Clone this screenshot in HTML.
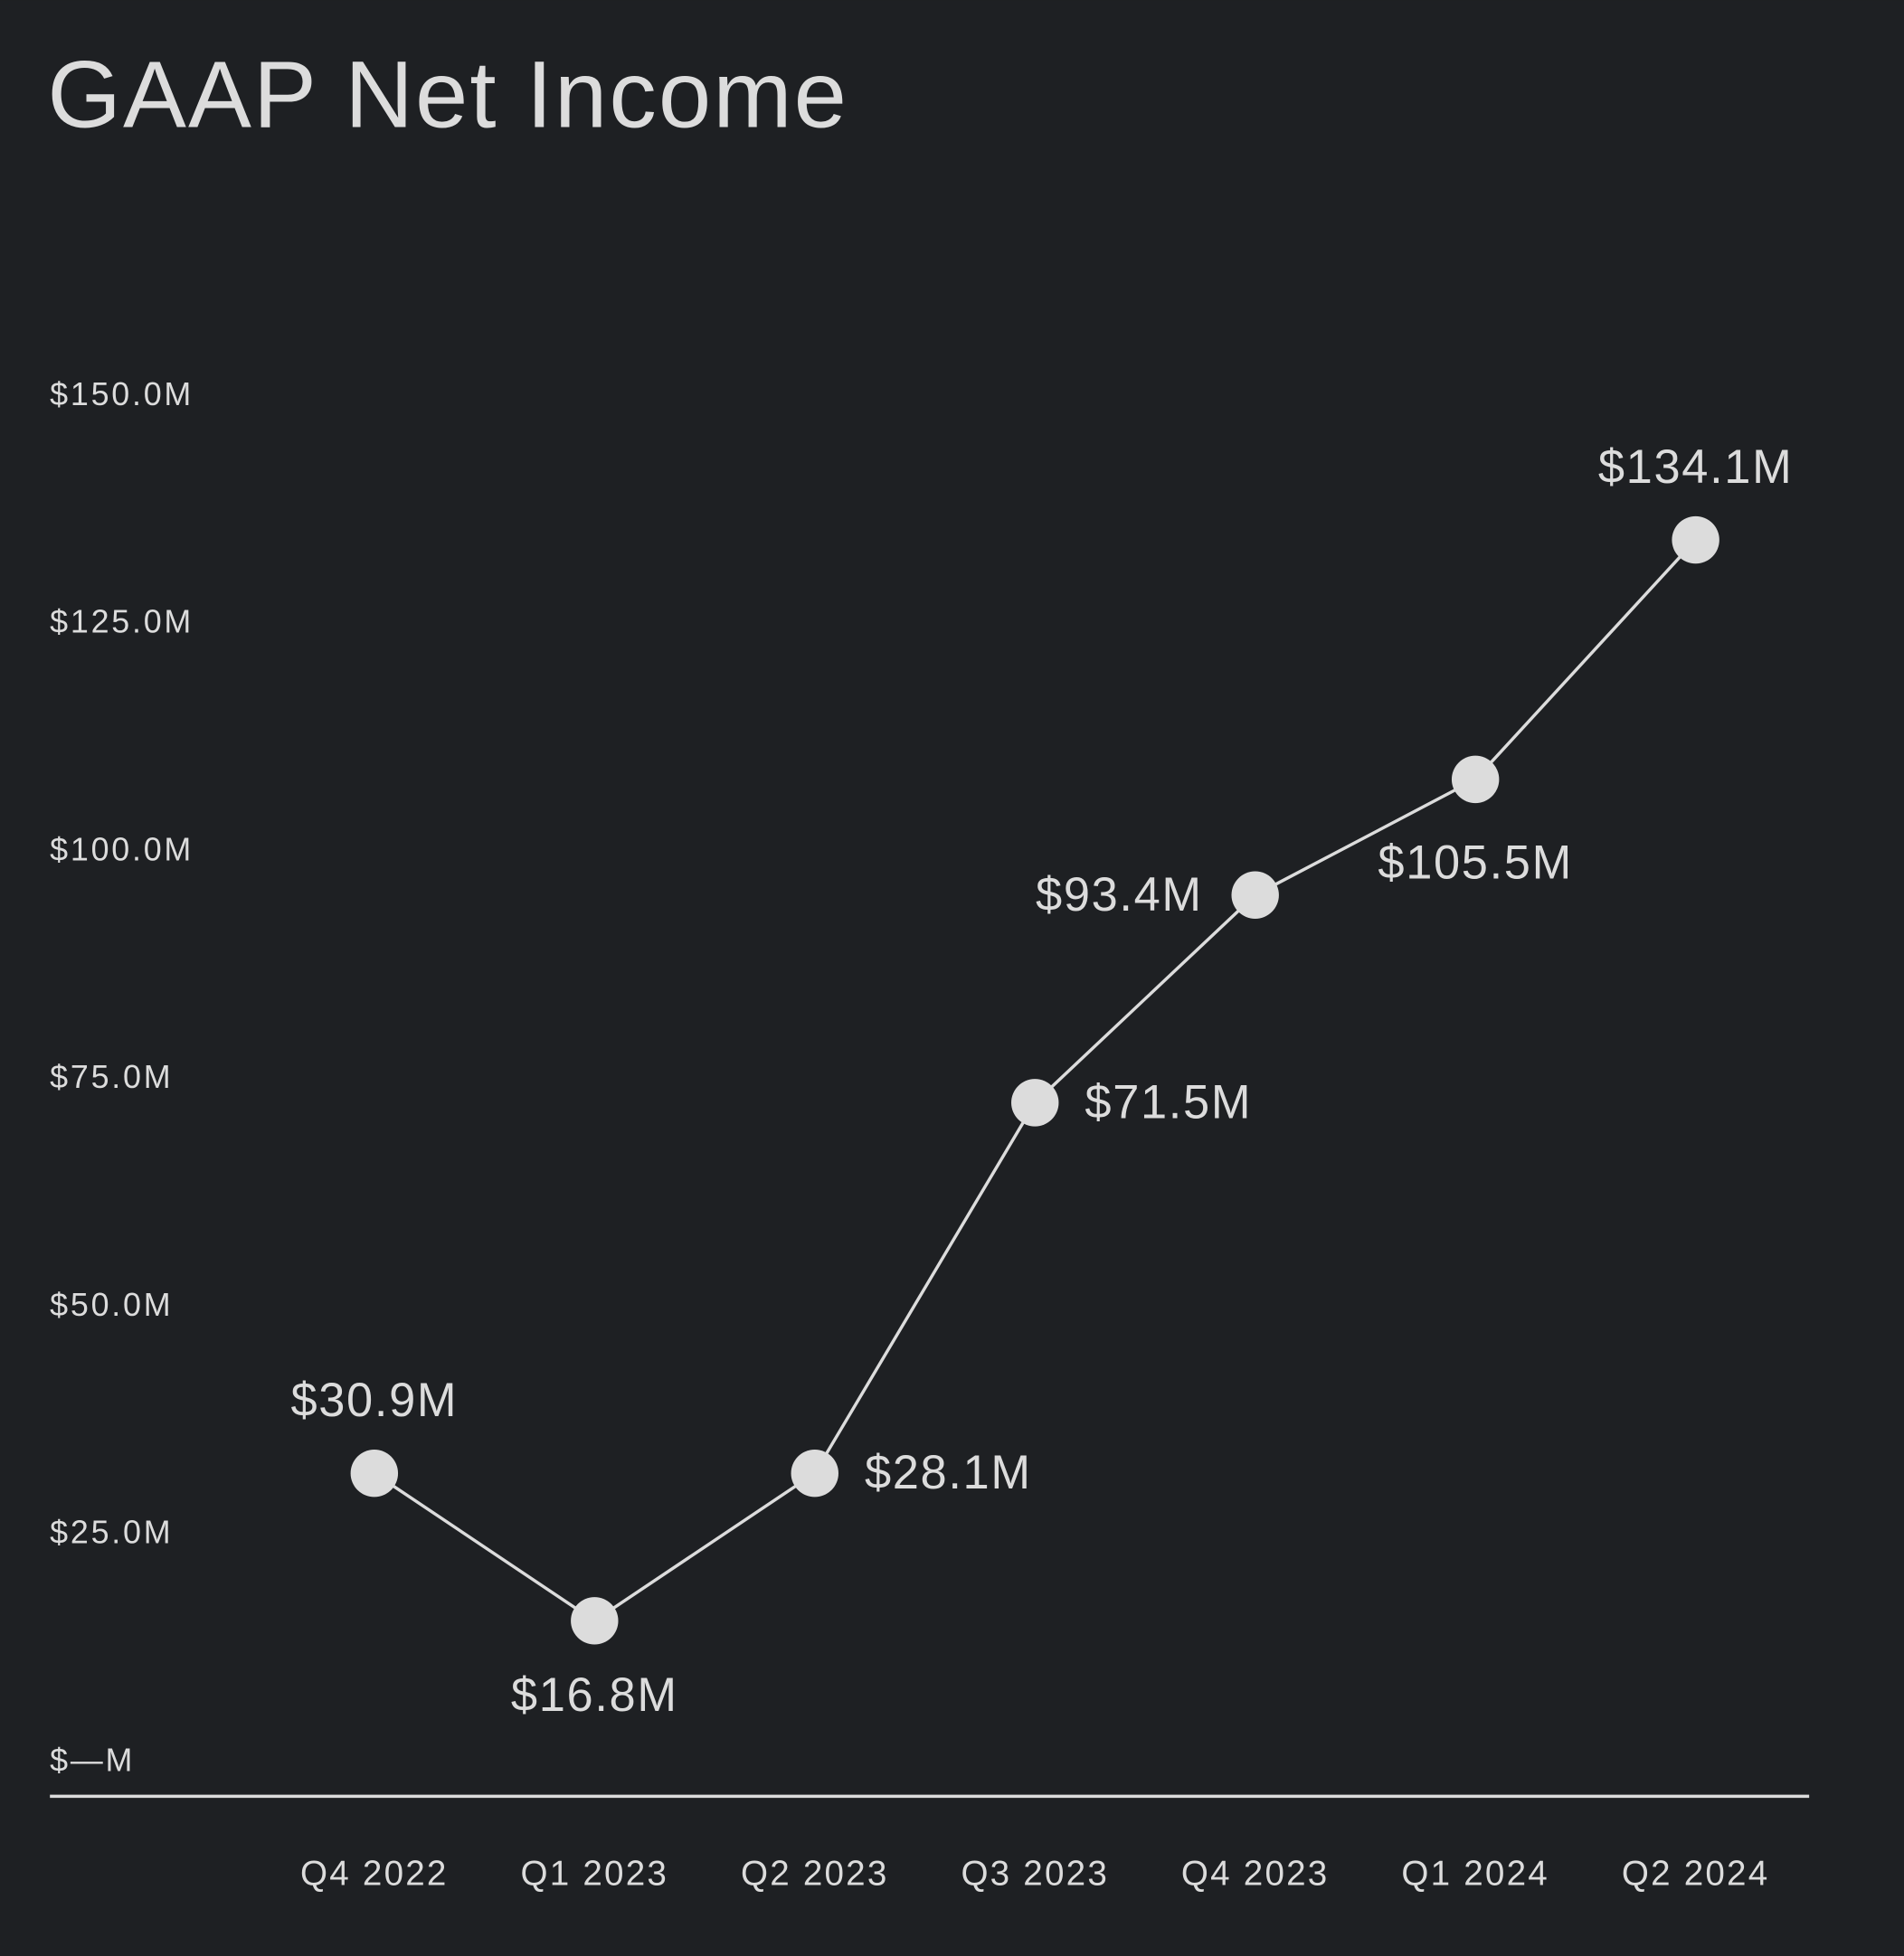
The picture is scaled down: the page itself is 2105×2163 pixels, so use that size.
<!DOCTYPE html>
<html><head><meta charset="utf-8"><style>
html,body{margin:0;padding:0;background:#1e2023;}
svg{display:block;}
text{font-family:"Liberation Sans",sans-serif;fill:#dcdcdc;}
</style></head><body>
<svg width="2105" height="2163" viewBox="0 0 1526 1568" xmlns="http://www.w3.org/2000/svg">
<rect width="1526" height="1568" fill="#1e2023"/>
<text x="38" y="102" font-size="76" letter-spacing="1.5">GAAP Net Income</text>
<line x1="40" y1="1440" x2="1450" y2="1440" stroke="#dcdcdc" stroke-width="2.5"/>
<g id="yticks"></g><g id="xticks"></g><path id="line" fill="none" stroke="#dcdcdc" stroke-width="2.5"/><g id="pts"></g><g id="lbls"></g>
</svg>
<script>
const categories=["Q4 2022","Q1 2023","Q2 2023","Q3 2023","Q4 2023","Q1 2024","Q2 2024"];
const values=[31.5,15.3,31.5,72.2,95,107.7,134];
const valueLabels=["$30.9M","$16.8M","$28.1M","$71.5M","$93.4M","$105.5M","$134.1M"];
const tickValues=[0,25,50,75,100,125,150];
const tickLabels=["$\u2014M","$25.0M","$50.0M","$75.0M","$100.0M","$125.0M","$150.0M"];
const labelPos=["above","below","right","right","left","below","above"];
const NS="http://www.w3.org/2000/svg";
const y=v=>1411-v*7.3;
const x=i=>300+i*176.5;
function t(parent,px,py,s,size,anchor,ls){const e=document.createElementNS(NS,"text");e.setAttribute("x",px);e.setAttribute("y",py);e.setAttribute("font-size",size);e.setAttribute("text-anchor",anchor);e.setAttribute("letter-spacing",ls);e.setAttribute("dominant-baseline","central");e.textContent=s;parent.appendChild(e);return e;}
const yt=document.getElementById("yticks");
tickValues.forEach((v,i)=>{const e=t(yt,40,y(v),tickLabels[i],26,"start",2);

});
const xt=document.getElementById("xticks");
categories.forEach((c,i)=>{const e=t(xt,x(i),1502,c,28,"middle",1.6);

});
document.getElementById("line").setAttribute("d",values.map((v,i)=>(i?"L":"M")+x(i)+","+y(v)).join(""));
const pts=document.getElementById("pts"),lb=document.getElementById("lbls");
values.forEach((v,i)=>{const c=document.createElementNS(NS,"circle");c.setAttribute("cx",x(i));c.setAttribute("cy",y(v));c.setAttribute("r",19);c.setAttribute("fill","#dcdcdc");


pts.appendChild(c);
let px=x(i),py=y(v),a="middle";const p=labelPos[i];
if(p==="above")py-=58;else if(p==="below")py+=60;else if(p==="right"){px+=40;a="start";}else{px-=42;a="end";}
if(i===5){py=y(v)+67;}
const e=t(lb,px,py,valueLabels[i],38,a,1.2);

});
</script>
</body></html>
